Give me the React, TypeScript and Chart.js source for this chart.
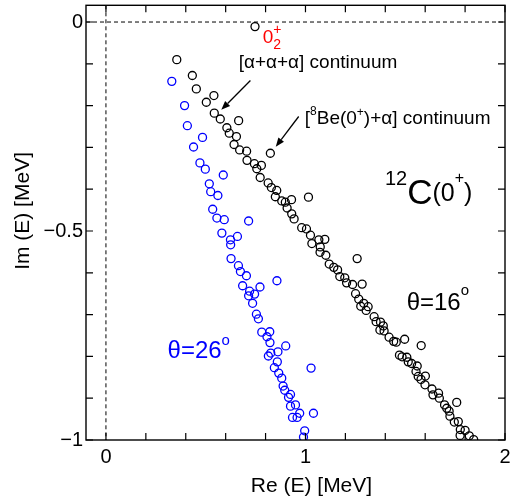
import React, { useEffect, useRef } from 'react';
import { Chart, registerables } from 'chart.js';

Chart.register(...registerables);

// ---------- data ----------
const blackRe = [0.747, 0.355, 0.433, 0.453, 0.541, 0.503, 0.543, 0.573, 0.665, 0.606, 0.618, 0.654, 0.642, 0.670, 0.705, 0.824, 0.707, 0.744, 0.779, 0.756, 0.773, 0.813, 0.829, 0.856, 0.849, 0.881, 0.899, 0.930, 0.908, 1.015, 0.931, 0.943, 0.981, 1.005, 1.025, 1.067, 1.097, 1.032, 1.074, 1.073, 1.102, 1.259, 1.119, 1.142, 1.161, 1.172, 1.197, 1.206, 1.236, 1.284, 1.251, 1.267, 1.292, 1.277, 1.314, 1.304, 1.344, 1.354, 1.376, 1.390, 1.373, 1.394, 1.419, 1.442, 1.455, 1.497, 1.580, 1.471, 1.484, 1.508, 1.515, 1.532, 1.560, 1.554, 1.565, 1.601, 1.579, 1.599, 1.634, 1.639, 1.667, 1.671, 1.758, 1.697, 1.708, 1.720, 1.724, 1.746, 1.766, 1.776, 1.800, 1.775, 1.821, 1.843];
const blackIm = [-0.011, -0.090, -0.128, -0.160, -0.176, -0.192, -0.218, -0.232, -0.236, -0.253, -0.266, -0.274, -0.293, -0.306, -0.309, -0.314, -0.331, -0.339, -0.343, -0.351, -0.372, -0.385, -0.396, -0.403, -0.418, -0.428, -0.431, -0.425, -0.445, -0.419, -0.459, -0.471, -0.492, -0.495, -0.510, -0.521, -0.520, -0.530, -0.538, -0.551, -0.558, -0.566, -0.579, -0.587, -0.593, -0.609, -0.612, -0.624, -0.628, -0.627, -0.650, -0.663, -0.673, -0.680, -0.681, -0.690, -0.705, -0.717, -0.718, -0.727, -0.737, -0.739, -0.754, -0.764, -0.766, -0.759, -0.774, -0.797, -0.801, -0.802, -0.813, -0.817, -0.823, -0.836, -0.848, -0.847, -0.855, -0.868, -0.878, -0.892, -0.888, -0.900, -0.910, -0.916, -0.924, -0.931, -0.943, -0.957, -0.956, -0.975, -0.977, -0.989, -0.990, -0.999];

const blueRe = [0.330, 0.394, 0.408, 0.484, 0.439, 0.471, 0.498, 0.588, 0.518, 0.525, 0.561, 0.535, 0.556, 0.593, 0.715, 0.581, 0.659, 0.624, 0.625, 0.627, 0.664, 0.674, 0.704, 0.857, 0.685, 0.772, 0.720, 0.745, 0.715, 0.735, 0.754, 0.764, 0.781, 0.821, 0.807, 0.822, 0.901, 0.826, 0.814, 0.862, 0.859, 0.844, 1.028, 0.866, 0.881, 0.888, 0.896, 0.925, 0.915, 0.950, 0.925, 0.971, 1.040, 0.935, 0.958, 0.996, 0.990];
const blueIm = [-0.142, -0.200, -0.248, -0.276, -0.299, -0.337, -0.352, -0.366, -0.387, -0.406, -0.415, -0.448, -0.469, -0.473, -0.476, -0.505, -0.513, -0.521, -0.533, -0.566, -0.583, -0.597, -0.607, -0.619, -0.631, -0.634, -0.644, -0.651, -0.655, -0.673, -0.699, -0.710, -0.742, -0.741, -0.753, -0.767, -0.775, -0.792, -0.799, -0.789, -0.813, -0.827, -0.828, -0.840, -0.852, -0.871, -0.881, -0.891, -0.898, -0.916, -0.919, -0.936, -0.936, -0.946, -0.946, -0.978, -0.993];

const xTickLabels = [0, 1, 2];
const yTickLabels = [0, -0.5, -1];
const xTickMarks = [0, 0.2, 0.4, 0.6, 0.8, 1.0, 1.2, 1.4, 1.6, 1.8, 2.0];
const yTickMarks = [0, -0.1, -0.2, -0.3, -0.4, -0.5, -0.6, -0.7, -0.8, -0.9, -1.0];

const xTitle = 'Re (E) [MeV]';
const yTitle = 'Im (E) [MeV]';

// ---------- styles ----------
const FONT = "'Liberation Sans', Arial, Helvetica, sans-serif";
const BLUE = '#0000ff';
const RED = '#ff0000';

type Run = { t: string; size: number; dy?: number; stay?: boolean };
type Note = { x: number; y: number; color: string; runs: Run[] };

const notes: Note[] = [
  { x: 0.786, y: -0.0496, color: RED, runs: [{ t: '0', size: 19 }, { t: '+', size: 14, dy: -8.5, stay: true }, { t: '2', size: 14, dy: 6 }] },
  { x: 0.665, y: -0.1094, color: '#000', runs: [{ t: '[α+α+α] continuum', size: 19 }] },
  { x: 0.9965, y: -0.2435, color: '#000', runs: [{ t: '[', size: 19 }, { t: '8', size: 12, dy: -9 }, { t: 'Be(0', size: 19 }, { t: '+', size: 12, dy: -8 }, { t: ')+α] continuum', size: 19 }] },
  { x: 1.398, y: -0.435, color: '#000', runs: [{ t: '12', size: 20, dy: -19 }, { t: 'C', size: 35 }, { t: '(0', size: 25, dy: -3 }, { t: '+', size: 16, dy: -20.5 }, { t: ')', size: 25, dy: -3 }] },
  { x: 1.507, y: -0.6888, color: '#000', runs: [{ t: 'θ=16', size: 24 }, { t: 'o', size: 15, dy: -14.5 }] },
  { x: 0.3087, y: -0.8037, color: BLUE, runs: [{ t: 'θ=26', size: 24 }, { t: 'o', size: 15, dy: -13 }] },
];

const arrows = [
  { x1: 0.724, y1: -0.140, x2: 0.578, y2: -0.210 },
  { x1: 0.966, y1: -0.226, x2: 0.851, y2: -0.2985 },
];

const fmt = (v: number) => (v < 0 ? '\u2212' + String(Math.abs(v)) : String(v));

function drawRuns(ctx: CanvasRenderingContext2D, x: number, y: number, runs: Run[], color: string) {
  let cx = x;
  ctx.fillStyle = color;
  ctx.textAlign = 'left';
  ctx.textBaseline = 'alphabetic';
  for (const r of runs) {
    ctx.font = `${r.size}px ${FONT}`;
    ctx.fillText(r.t, cx, y + (r.dy || 0));
    if (!r.stay) cx += ctx.measureText(r.t).width;
  }
}

const decorPlugin = {
  id: 'decor',
  beforeDatasetsDraw(chart: any) {
    const { ctx, chartArea: a, scales } = chart;
    const x0 = scales.x.getPixelForValue(0);
    const y0 = scales.y.getPixelForValue(0);
    ctx.save();
    ctx.strokeStyle = '#000';
    ctx.lineWidth = 1;
    ctx.setLineDash([4, 3]);
    ctx.beginPath();
    ctx.moveTo(a.left, y0);
    ctx.lineTo(a.right, y0);
    ctx.moveTo(x0, a.top);
    ctx.lineTo(x0, a.bottom);
    ctx.stroke();
    ctx.restore();
  },
  afterDatasetsDraw(chart: any) {
    const { ctx, chartArea: a, scales } = chart;
    const sx = scales.x, sy = scales.y;
    ctx.save();
    // frame
    ctx.strokeStyle = '#000';
    ctx.lineWidth = 1.4;
    ctx.setLineDash([]);
    ctx.strokeRect(a.left, a.top, a.right - a.left, a.bottom - a.top);
    // inward ticks
    const L = 7;
    ctx.lineWidth = 1.2;
    ctx.beginPath();
    for (const v of xTickMarks) {
      const px = sx.getPixelForValue(v);
      ctx.moveTo(px, a.bottom); ctx.lineTo(px, a.bottom - L);
      ctx.moveTo(px, a.top); ctx.lineTo(px, a.top + L);
    }
    for (const v of yTickMarks) {
      const py = sy.getPixelForValue(v);
      ctx.moveTo(a.left, py); ctx.lineTo(a.left + L, py);
      ctx.moveTo(a.right, py); ctx.lineTo(a.right - L, py);
    }
    ctx.stroke();

    // axis titles
    ctx.fillStyle = '#000';
    ctx.font = `21px ${FONT}`;
    ctx.textAlign = 'center';
    ctx.textBaseline = 'middle';
    ctx.fillText(xTitle, sx.getPixelForValue(1.03), a.bottom + 46);
    ctx.save();
    ctx.translate(a.left - 63, sy.getPixelForValue(-0.452));
    ctx.rotate(-Math.PI / 2);
    ctx.fillText(yTitle, 0, 0);
    ctx.restore();

    // arrows
    ctx.strokeStyle = '#000';
    ctx.fillStyle = '#000';
    ctx.lineWidth = 1.3;
    for (const ar of arrows) {
      const X1 = sx.getPixelForValue(ar.x1), Y1 = sy.getPixelForValue(ar.y1);
      const X2 = sx.getPixelForValue(ar.x2), Y2 = sy.getPixelForValue(ar.y2);
      const ang = Math.atan2(Y2 - Y1, X2 - X1);
      const hl = 9, hw = 3.5;
      const bx = X2 - hl * Math.cos(ang), by = Y2 - hl * Math.sin(ang);
      ctx.beginPath();
      ctx.moveTo(X1, Y1);
      ctx.lineTo(bx, by);
      ctx.stroke();
      ctx.beginPath();
      ctx.moveTo(X2, Y2);
      ctx.lineTo(bx + hw * Math.sin(ang), by - hw * Math.cos(ang));
      ctx.lineTo(bx - hw * Math.sin(ang), by + hw * Math.cos(ang));
      ctx.closePath();
      ctx.fill();
    }

    // annotations
    for (const n of notes) {
      drawRuns(ctx, sx.getPixelForValue(n.x), sy.getPixelForValue(n.y), n.runs, n.color);
    }
    ctx.restore();
  },
};

export default function App() {
  const ref = useRef<HTMLCanvasElement | null>(null);

  useEffect(() => {
    if (!ref.current) return;
    const chart = new Chart(ref.current, {
      type: 'scatter',
      data: {
        datasets: [
          {
            label: 'θ=26°',
            data: blueRe.map((x, i) => ({ x, y: blueIm[i] })),
            borderColor: BLUE,
            backgroundColor: 'rgba(0,0,0,0)',
            pointRadius: 4,
            pointBorderWidth: 1.3,
            showLine: false,
          },
          {
            label: 'θ=16°',
            data: blackRe.map((x, i) => ({ x, y: blackIm[i] })),
            borderColor: '#000',
            backgroundColor: 'rgba(0,0,0,0)',
            pointRadius: 4,
            pointBorderWidth: 1.3,
            showLine: false,
          },
        ],
      },
      options: {
        responsive: false,
        animation: false,
        devicePixelRatio: 1,
        layout: { padding: { left: 0, top: 5, right: 18, bottom: 0 } },
        plugins: { legend: { display: false }, tooltip: { enabled: false } },
        scales: {
          x: {
            type: 'linear',
            min: -0.1,
            max: 2.0,
            grid: { display: false, drawTicks: false },
            border: { display: false },
            afterBuildTicks: (s: any) => { s.ticks = xTickLabels.map((v) => ({ value: v })); },
            afterFit: (s: any) => { s.height = 62; s.paddingLeft = 0; s.paddingRight = 0; s.paddingTop = 0; s.paddingBottom = 0; },
            ticks: {
              font: { size: 20, family: FONT },
              color: '#000',
              padding: 5,
              maxRotation: 0,
              autoSkip: false,
              callback: (v: any) => fmt(Number(v)),
            },
          },
          y: {
            type: 'linear',
            min: -1.0,
            max: 0.04,
            grid: { display: false, drawTicks: false },
            border: { display: false },
            afterBuildTicks: (s: any) => { s.ticks = yTickLabels.map((v) => ({ value: v })); },
            afterFit: (s: any) => { s.width = 86; s.paddingLeft = 0; s.paddingRight = 0; s.paddingTop = 0; s.paddingBottom = 0; },
            ticks: {
              font: { size: 20, family: FONT },
              color: '#000',
              padding: 3,
              autoSkip: false,
              callback: (v: any) => fmt(Number(v)),
            },
          },
        },
      },
      plugins: [decorPlugin],
    });
    return () => chart.destroy();
  }, []);

  return (
    <div style={{ position: 'absolute', left: 0, top: 0, width: 523, height: 502, background: '#fff' }}>
      <canvas ref={ref} width={523} height={502} style={{ width: 523, height: 502, display: 'block' }} />
    </div>
  );
}
